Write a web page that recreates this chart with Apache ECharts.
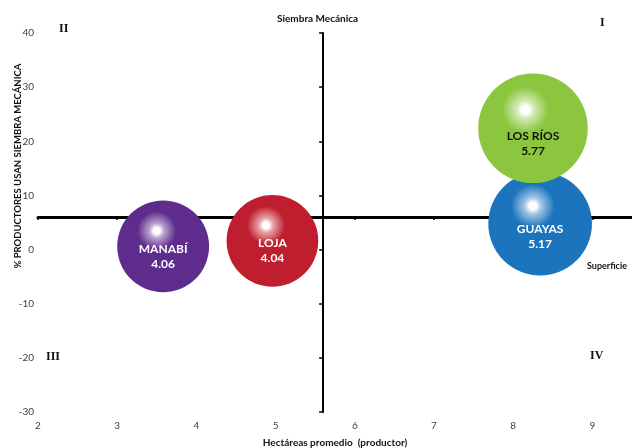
<!DOCTYPE html>
<html>
<head>
<meta charset="utf-8">
<script src="https://cdn.jsdelivr.net/npm/echarts@6/dist/echarts.min.js"></script>
<style>
  html, body { margin: 0; padding: 0; background: #fff; }
  #chart { width: 632px; height: 448px; }
</style>
</head>
<body>
<div id="chart"></div>
<script>
// Provinces, average hectares per producer, % using mechanical sowing, bubble value
const regions = ['MANABÍ', 'LOJA', 'GUAYAS', 'LOS RÍOS'];
const hectareas = [3.58, 4.96, 8.34, 8.25];
const siembraPct = [0.6, 1.6, 4.8, 22.4];
const bubbleValues = [4.06, 4.04, 5.17, 5.77];

const xTicks = [2, 3, 4, 5, 6, 7, 8, 9];
const yTicks = [-30, -20, -10, 0, 10, 20, 30, 40];

// Where the two quadrant axes cross
const crossX = 5.6;
const crossY = 6;

const palette = ['#5E2C8C', '#BE1E2D', '#1C75BC', '#8CC63F'];
const glowPalette = ['#B9A3CF', '#E9A0A6', '#A3C6E6', '#D2EAB3'];
const labelColors = ['#ffffff', '#ffffff', '#ffffff', '#111111'];

const X_MIN = 2, X_MAX = 9.5, Y_MIN = -30, Y_MAX = 40;
const GRID = { left: 38, right: 0, top: 33, bottom: 36, outerBoundsMode: 'none', containLabel: false };
const W = 632, H = 448;
const gridW = W - GRID.left - GRID.right;
const gridH = H - GRID.top - GRID.bottom;

// Shift the crossing axes from the grid edges to the crossing values
const hOffset = -((crossY - Y_MIN) / (Y_MAX - Y_MIN)) * gridH;
const vOffset = -((crossX - X_MIN) / (X_MAX - X_MIN)) * gridW;

const font = 'Lato, "Open Sans", sans-serif';
const serif = '"Liberation Serif", "DejaVu Serif", serif';

const bubbleDiameter = (v) => 45.6 * Math.sqrt(v);

function sphere(color, glow) {
  return new echarts.graphic.RadialGradient(0.43, 0.33, 0.5, [
    { offset: 0, color: '#ffffff' },
    { offset: 0.07, color: '#ffffff' },
    { offset: 0.16, color: glow },
    { offset: 0.42, color: color },
    { offset: 1, color: color }
  ]);
}

const data = regions.map((name, i) => {
  const r = bubbleDiameter(bubbleValues[i]) / 2;
  return {
    name: name,
    value: [hectareas[i], siembraPct[i], bubbleValues[i]],
    itemStyle: { color: sphere(palette[i], glowPalette[i]), opacity: 1 },
    label: { color: labelColors[i], offset: [0, 10 + (r - 46) * 0.6] }
  };
});

const chart = echarts.init(document.getElementById('chart'), null, { renderer: 'canvas' });

chart.setOption({
  animation: false,
  backgroundColor: '#ffffff',
  grid: GRID,
  xAxis: [
    {
      type: 'value', min: X_MIN, max: X_MAX, interval: 1,
      axisLine: { show: false }, axisTick: { show: false }, splitLine: { show: false },
      axisLabel: { customValues: xTicks, margin: 9, fontSize: 10, color: '#404040', fontFamily: font },
      name: 'Hectáreas promedio  (productor)', nameLocation: 'middle', nameGap: 26,
      nameTextStyle: { fontSize: 10, fontWeight: 'bold', color: '#111', fontFamily: font }
    },
    {
      type: 'value', min: X_MIN, max: X_MAX, interval: 1, position: 'bottom', offset: hOffset,
      axisLine: { show: true, onZero: false, lineStyle: { color: '#000', width: 3 } },
      axisTick: { show: true, customValues: xTicks, length: 3, lineStyle: { color: '#000', width: 1.5 } },
      axisLabel: { show: false }, splitLine: { show: false }
    }
  ],
  yAxis: [
    {
      type: 'value', min: Y_MIN, max: Y_MAX, interval: 10,
      axisLine: { show: false }, axisTick: { show: false }, splitLine: { show: false },
      axisLabel: { customValues: yTicks, margin: 4, fontSize: 10, color: '#404040', fontFamily: font }
    },
    {
      type: 'value', min: Y_MIN, max: Y_MAX, interval: 10, position: 'left', offset: vOffset,
      axisLine: { show: true, onZero: false, lineStyle: { color: '#000', width: 2 } },
      axisTick: { show: true, customValues: yTicks, length: 4, lineStyle: { color: '#000', width: 1.5 } },
      axisLabel: { show: false }, splitLine: { show: false }
    }
  ],
  graphic: [
    { type: 'text', left: 277, top: 14, style: { text: 'Siembra Mecánica', font: 'bold 10px ' + font, fill: '#111' } },
    { type: 'text', left: 587, top: 262, style: { text: 'Superficie', font: 'bold 9px ' + font, fill: '#111' } },
    { type: 'text', x: 18, y: 166, rotation: Math.PI / 2, style: { text: '% PRODUCTORES USAN SIEMBRA MECÁNICA', font: 'bold 9.5px ' + font, fill: '#111', align: 'center', verticalAlign: 'middle' } },
    { type: 'text', left: 59, top: 23, style: { text: 'II', font: 'bold 12px ' + serif, fill: '#111' } },
    { type: 'text', left: 600, top: 17, style: { text: 'I', font: 'bold 12px ' + serif, fill: '#111' } },
    { type: 'text', left: 46, top: 351, style: { text: 'III', font: 'bold 12px ' + serif, fill: '#111' } },
    { type: 'text', left: 590, top: 350, style: { text: 'IV', font: 'bold 12px ' + serif, fill: '#111' } }
  ],
  series: [
    {
      type: 'scatter',
      xAxisIndex: 0, yAxisIndex: 0,
      symbol: 'circle',
      symbolSize: (val) => bubbleDiameter(val[2]),
      data: data,
      itemStyle: { opacity: 1 },
      label: {
        show: true,
        position: 'inside',
        fontSize: 12,
        fontWeight: 'bold',
        lineHeight: 15,
        fontFamily: font,
        formatter: (p) => p.name + '\n' + p.value[2].toFixed(2)
      },
      emphasis: { disabled: true }
    }
  ]
});
</script>
</body>
</html>
